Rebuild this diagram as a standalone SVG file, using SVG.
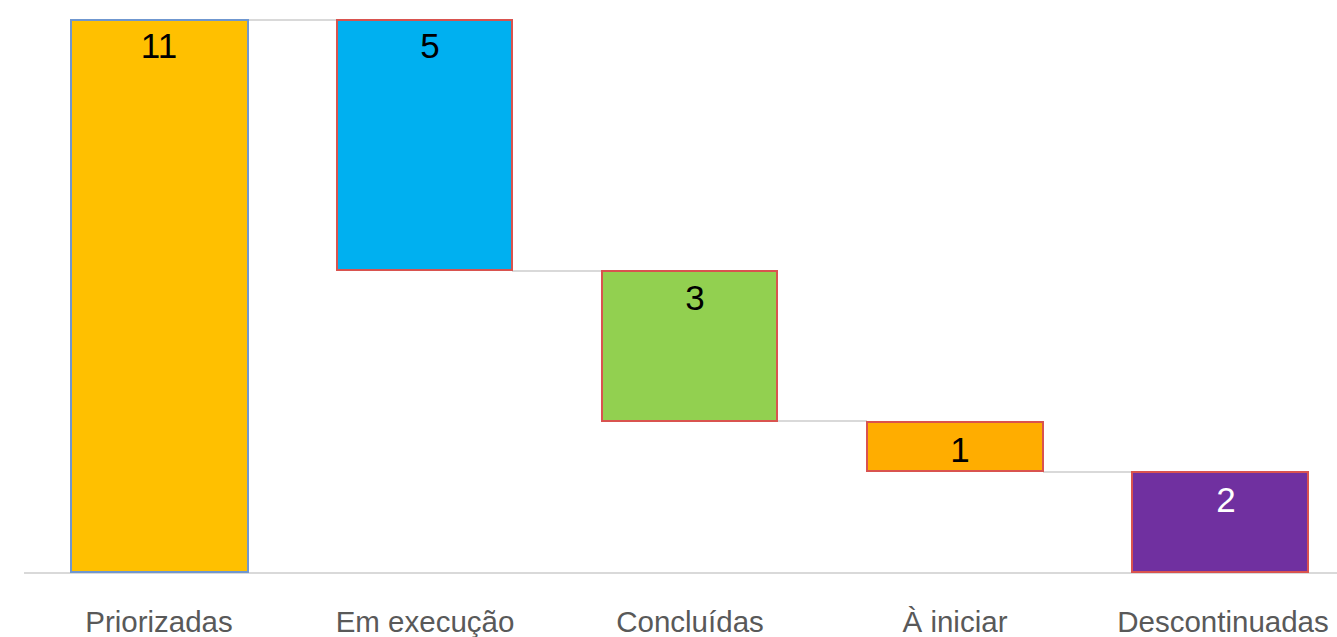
<svg xmlns="http://www.w3.org/2000/svg" width="1337" height="637" viewBox="0 0 1337 637">
<style>
.bar{stroke-width:2}
.red{stroke:#d9534f}
.val{font-family:"Liberation Sans",Arial,sans-serif;font-size:35px;text-anchor:middle;fill:#000}
.cat{font-family:"Liberation Sans",Arial,sans-serif;font-size:29.5px;text-anchor:middle;fill:#595959}
.conn{stroke:#d9d9d9;stroke-width:2;fill:none}
</style>
<rect width="1337" height="637" fill="#fff"/>
<g id="connectors">
<line class="conn" x1="24" y1="573" x2="1337" y2="573"/>
<line class="conn" x1="248" y1="20" x2="337" y2="20"/>
<line class="conn" x1="512" y1="271" x2="602" y2="271"/>
<line class="conn" x1="777" y1="421" x2="867" y2="421"/>
<line class="conn" x1="1043" y1="472" x2="1132" y2="472"/>
</g>
<g id="priorizadas">
<rect class="bar" x="71" y="20" width="177" height="552" fill="#FFC000" stroke="#6f97d0"/>
<text class="val" x="159" y="58">11</text>
<text class="cat" x="159" y="632">Priorizadas</text>
</g>
<g id="em-execucao">
<rect class="bar red" x="337" y="20" width="175" height="250" fill="#00B0F0"/>
<text class="val" x="430" y="58">5</text>
<text class="cat" x="425" y="632">Em execução</text>
</g>
<g id="concluidas">
<rect class="bar red" x="602" y="271" width="175" height="150" fill="#92D050"/>
<text class="val" x="695" y="310">3</text>
<text class="cat" x="690" y="632">Concluídas</text>
</g>
<g id="a-iniciar">
<rect class="bar red" x="867" y="422" width="176" height="49" fill="#FFAD00"/>
<text class="val" x="960" y="462">1</text>
<text class="cat" x="955" y="632">À iniciar</text>
</g>
<g id="descontinuadas">
<rect class="bar red" x="1132" y="472" width="176" height="100" fill="#7030A0"/>
<text class="val" x="1226" y="512" style="fill:#fff">2</text>
<text class="cat" x="1223" y="632">Descontinuadas</text>
</g>
</svg>
